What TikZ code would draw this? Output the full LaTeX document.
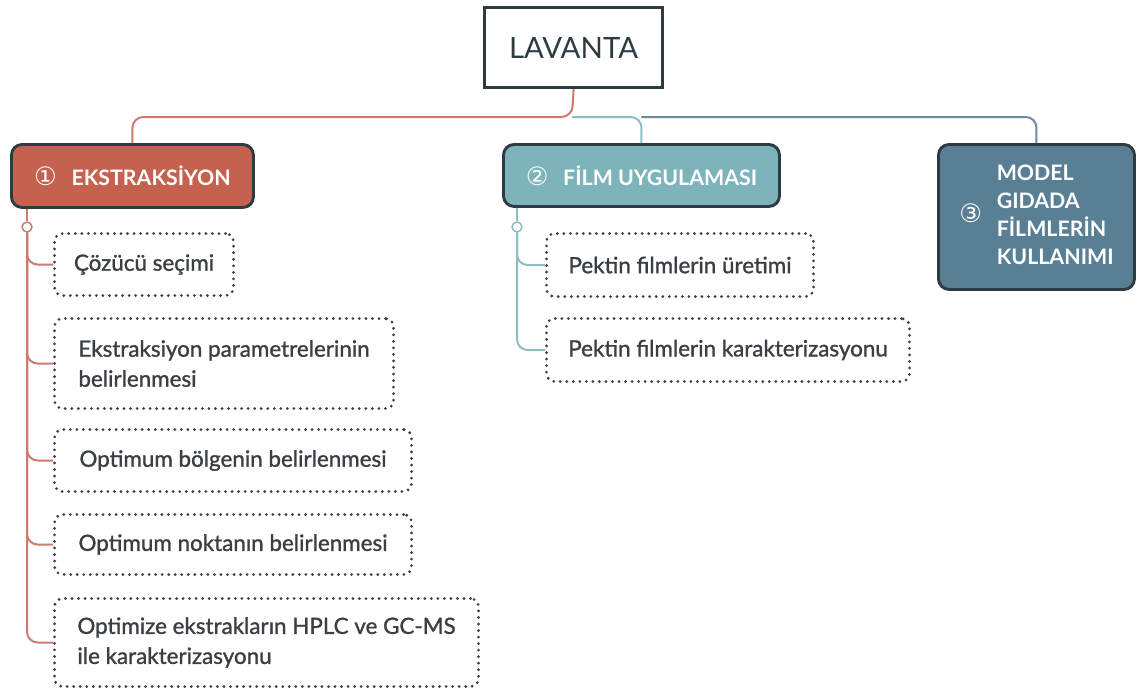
\documentclass[tikz,border=0pt]{standalone}
\usepackage{fontspec}
\setmainfont{Lato}
\newfontfamily\leaffont{Lato}[FakeBold=1.2]
\newfontfamily\symfont{DejaVu Sans}
\usetikzlibrary{positioning}
\definecolor{ink}{HTML}{2F3B43}
\definecolor{extred}{HTML}{C4614F}
\definecolor{filmteal}{HTML}{7DB4BC}
\definecolor{modelslate}{HTML}{597F94}
\definecolor{redwire}{HTML}{CC7B6E}
\definecolor{tealwire}{HTML}{8DBEC4}
\definecolor{slatewire}{HTML}{6E8B9B}
\definecolor{dotgray}{HTML}{3B4046}
\definecolor{textgray}{HTML}{3A3F45}
\newcommand\badge[1]{{\symfont\mdseries\fontsize{19}{19}\selectfont #1}\hspace{11pt}}
\tikzset{
 root/.style={draw=ink,line width=2.4pt,anchor=north west,text=ink,font=\fontsize{22}{26}\selectfont},
 topic/.style={draw=ink,line width=2.2pt,rounded corners=8pt,anchor=north west,text=white,font=\fontsize{16}{21}\selectfont\bfseries},
 leaf/.style={draw=dotgray,line width=2.3pt,dash pattern=on 0pt off 4.9pt,line cap=round,rounded corners=6pt,anchor=north west,align=left,text=textgray,font=\leaffont\fontsize{16.8}{22.5}\selectfont},
 knob/.style={circle,draw,fill=white,line width=1.1pt,inner sep=0pt,minimum size=7.5pt},
 wire/.style={line width=1.5pt,rounded corners=8pt},
}
\begin{document}
\begin{tikzpicture}[x=0.75pt,y=-0.75pt]
 \useasboundingbox (0,0) rectangle (1136,690);
 % main topic and the three branches
 \node[root,minimum width=178*0.75pt,minimum height=80*0.75pt] (lav) at (483,6) {LAVANTA};
 \node[topic,fill=extred,minimum width=242*0.75pt,minimum height=63*0.75pt] (ext) at (10,143) {\badge{①}EKSTRAKSİYON};
 \node[topic,fill=filmteal,minimum width=276*0.75pt,minimum height=62*0.75pt] (film) at (502,143) {\badge{②}FİLM UYGULAMASI};
 \node[topic,fill=modelslate,minimum width=196*0.75pt,minimum height=145*0.75pt] (model) at (937,143)
  {\badge{③}\begin{tabular}{@{}l@{}}MODEL\\GIDADA\\FİLMLERİN\\KULLANIMI\end{tabular}};
 \coordinate (hub) at (572,117);
 \draw[wire,redwire] (lav.south) -- (hub) -| (ext.north);
 \draw[wire,slatewire] (hub -| film.north) -| (model.north);
 \draw[wire,tealwire] (hub) -| (film.north);
 % sub topics
 \foreach \id/\px/\py/\w/\h/\txt in {
  i1/53/232/179/62/{Çözücü seçimi},
  i2/53/317/339/90/{Ekstraksiyon parametrelerinin\\belirlenmesi},
  i3/53/428/357/62/{Optimum bölgenin belirlenmesi},
  i4/53/513/357/60/{Optimum noktanın belirlenmesi},
  i5/53/597/424/88/{Optimize ekstrakların HPLC ve GC-MS\\ile karakterizasyonu},
  f1/545/232/267/63/{Pektin filmlerin üretimi},
  f2/545/317/363/63/{Pektin filmlerin karakterizasyonu}}{
  \node[leaf,minimum width=\w*0.75pt,minimum height=\h*0.75pt] (\id) at (\px,\py) {\txt};}
 \node[knob,draw=redwire] (k1) at (27,227) {};
 \node[knob,draw=tealwire] (k2) at (517,227) {};
 \draw[wire,redwire] (ext.south -| k1) -- (k1.north);
 \draw[wire,tealwire] (film.south -| k2) -- (k2.north);
 \foreach \id in {i1,i2,i3,i4,i5}{\draw[wire,redwire] (k1.south) |- (\id.west);}
 \foreach \id in {f1,f2}{\draw[wire,tealwire] (k2.south) |- (\id.west);}
\end{tikzpicture}
\end{document}
